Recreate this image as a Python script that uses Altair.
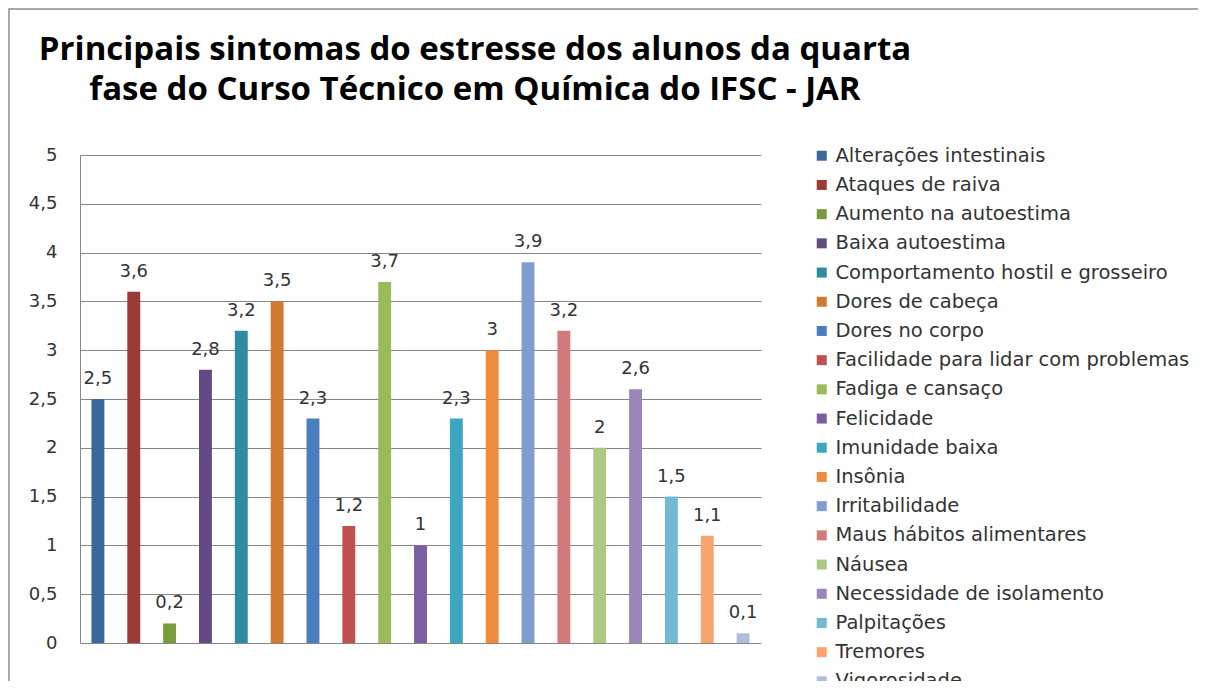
import altair as alt
import pandas as pd

categories = [
    "Alterações intestinais", "Ataques de raiva", "Aumento na autoestima",
    "Baixa autoestima", "Comportamento hostil e grosseiro", "Dores de cabeça",
    "Dores no corpo", "Facilidade para lidar com problemas", "Fadiga e cansaço",
    "Felicidade", "Imunidade baixa", "Insônia", "Irritabilidade",
    "Maus hábitos alimentares", "Náusea", "Necessidade de isolamento",
    "Palpitações", "Tremores", "Vigorosidade",
]
values = [2.5, 3.6, 0.2, 2.8, 3.2, 3.5, 2.3, 1.2, 3.7, 1.0, 2.3, 3.0, 3.9, 3.2,
          2.0, 2.6, 1.5, 1.1, 0.1]
colors = [
    "#3C679B", "#9B3B38", "#7A9A3E", "#634A82", "#2F8BA0", "#D07A32",
    "#4A7EBF", "#C0504D", "#9BBB59", "#7B5FA0", "#3FA6C2", "#F08A3C",
    "#7F9ECF", "#D07A7A", "#ADC883", "#9B86BA", "#72B9D2", "#F8A46E",
    "#A9BFDC",
]
y_ticks = [0, 0.5, 1, 1.5, 2, 2.5, 3, 3.5, 4, 4.5, 5]
title_lines = ["Principais sintomas do estresse dos alunos da quarta",
               "fase do Curso Técnico em Química do IFSC - JAR"]

df = pd.DataFrame({
    "cat": categories,
    "v": values,
    "lbl": [f"{v:g}".replace(".", ",") for v in values],
})

W, H = 681, 488
FONT = "DejaVu Sans"

x_enc = alt.X("cat:N", sort=categories, axis=None,
              scale=alt.Scale(paddingInner=0.64, paddingOuter=0.32))
y_enc = alt.Y("v:Q", scale=alt.Scale(domain=[0, 5], nice=False),
              axis=alt.Axis(values=y_ticks, title=None,
                            labelExpr="replace(format(datum.value, '.1~f'), '.', ',')",
                            grid=True, gridColor="#868686", gridWidth=1,
                            domain=True, domainColor="#868686", domainWidth=1,
                            ticks=False, labelPadding=23, labelFont=FONT,
                            labelFontSize=18, labelColor="#333333"))

base = alt.Chart(df)

bars = base.mark_bar().encode(
    x=x_enc,
    y=y_enc,
    color=alt.Color("cat:N", sort=categories,
                    scale=alt.Scale(domain=categories, range=colors),
                    legend=alt.Legend(orient="none", legendX=732, legendY=-9,
                                      title=None, symbolType="square",
                                      symbolSize=100, symbolStrokeWidth=0,
                                      labelFont=FONT, labelFontSize=19.5,
                                      labelColor="#333333", labelLimit=600,
                                      rowPadding=8.2, labelOffset=4,
                                      padding=0)),
)

texts = base.mark_text(dy=-15, baseline="alphabetic", font=FONT, fontSize=18,
                       color="#333333").encode(
    x=x_enc,
    y=alt.Y("v:Q"),
    text="lbl:N",
)

one = pd.DataFrame({"a": [0]})

frame = alt.Chart(one).mark_rect(
    fillOpacity=0, stroke="#8c8c8c", strokeWidth=1.5
).encode(
    x=alt.value(-71), x2=alt.value(1300),
    y=alt.value(-146), y2=alt.value(700),
)

title = alt.Chart(one).mark_text(
    text=title_lines, font="Open Sans", fontSize=33, fontWeight="bold",
    color="#000000", align="center", baseline="alphabetic", lineHeight=40,
).encode(x=alt.value(395), y=alt.value(-95))

chart = alt.layer(frame, title, bars, texts).properties(
    width=W, height=H,
    autosize=alt.AutoSizeParams(type="none"),
    padding={"left": 72, "top": 147, "right": 437, "bottom": 38},
).configure_view(stroke=None)

chart.save("out.html", embed_options={"renderer": "svg", "actions": False})
